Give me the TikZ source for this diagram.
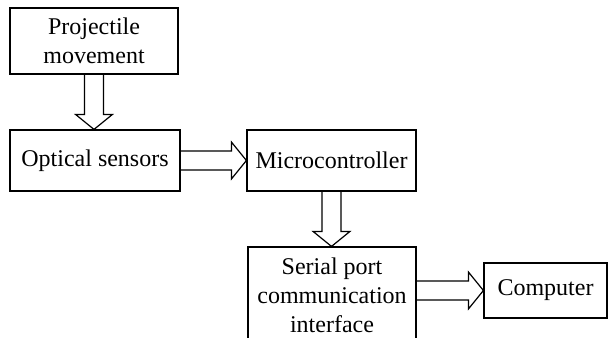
\documentclass[tikz,border=0pt]{standalone}
\usepackage{fontspec}
\setmainfont{Liberation Serif}
\usetikzlibrary{calc}

\tikzset{
  block/.style={draw,line width=0.6pt,align=center,inner sep=0pt,font=\fontsize{12}{14.4}\selectfont},
  hollow/.style={draw,line width=0.6pt,line join=miter}
}
% hollow block arrows between two boxes
\newcommand{\varrow}[2]{%
  \draw[hollow] ($(#1.south)+(-9.5,0)$) -- ($(#1.south |- #2.north)+(-9.5,-15)$) -- ++(-9,0) -- (#1.south |- #2.north) -- ++(18.5,-15) -- ++(-9,0) -- ($(#1.south)+(9.5,0)$);}
\newcommand{\harrow}[2]{%
  \draw[hollow] ($(#1.east |- #2.west)+(0,-9.5)$) -- ($(#2.west)+(-15,-9.5)$) -- ++(0,-9) -- (#2.west) -- ++(-15,18.5) -- ++(0,-9) -- ($(#1.east |- #2.west)+(0,9.5)$);}

\begin{document}
\begin{tikzpicture}[x=0.5pt,y=-0.5pt]
    \useasboundingbox (0,0) rectangle (608,337);
    \node[block,minimum width=84pt,minimum height=33pt] (proj) at (94,41) {Projectile\\movement};
    \node[block,minimum width=85pt,minimum height=30.5pt] (opt) at (95,160.5) {Optical sensors};
    \node[block,minimum width=84.5pt,minimum height=30.5pt] (micro) at (331.5,160.5) {Microcontroller};
    \node[block,minimum width=84pt,minimum height=48pt] (serial) at (332,295) {Serial port\\communication\\interface};
    \node[block,minimum width=61.5pt,minimum height=27.5pt] (comp) at (545.5,290.5) {Computer};
    \varrow{proj}{opt}
    \harrow{opt}{micro}
    \varrow{micro}{serial}
    \harrow{serial}{comp}
  \end{tikzpicture}
\end{document}
